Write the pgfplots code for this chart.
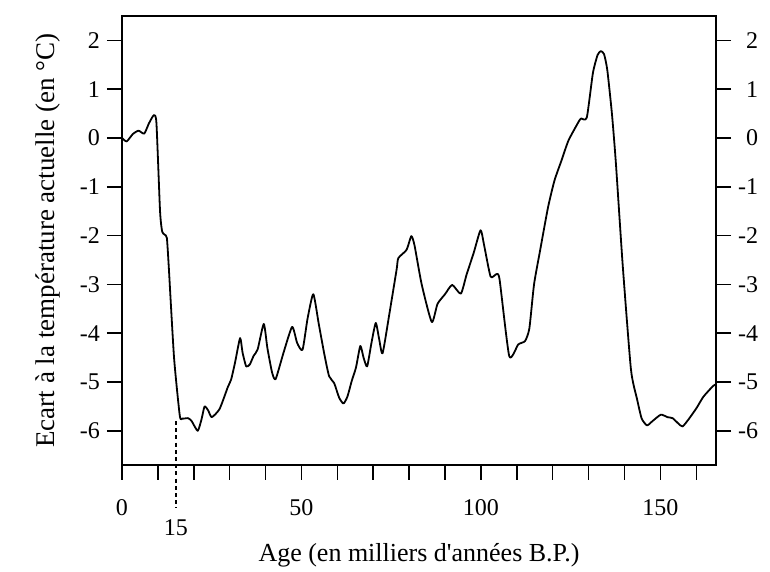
\documentclass[border=0pt]{standalone}
\usepackage{fontspec}
\setmainfont{Liberation Serif}[Ligatures=TeXOff]
\usepackage{pgfplots}
\pgfplotsset{compat=1.18}
\pgfplotstableread{
x y
0 0
1.3 -0.07
3 0.08
4.6 0.15
6.2 0.09
7.5 0.3
8.9 0.47
9.6 0.3
10.6 -1.5
11.2 -1.92
11.9 -1.98
12.5 -2.05
13.0 -2.6
14.5 -4.5
16.1 -5.69
16.8 -5.75
18.4 -5.74
19.4 -5.8
21.1 -6.0
22.2 -5.75
23.0 -5.5
24.0 -5.58
25.0 -5.72
27.2 -5.55
29.5 -5.1
30.4 -4.95
31.5 -4.6
32.9 -4.1
33.6 -4.4
34.6 -4.68
35.6 -4.64
36.7 -4.46
37.8 -4.33
39.5 -3.81
40.5 -4.3
41.8 -4.8
42.8 -4.94
45 -4.4
47.4 -3.87
48.8 -4.2
50.3 -4.34
51.7 -3.7
53.3 -3.2
54.8 -3.8
56.4 -4.44
57.7 -4.88
59.1 -5.02
60.5 -5.32
61.7 -5.44
62.8 -5.3
64.0 -4.98
65.2 -4.7
66.4 -4.26
67.3 -4.5
68.3 -4.68
69.5 -4.2
70.7 -3.79
71.6 -4.1
72.6 -4.41
74.5 -3.6
76.5 -2.70
77.0 -2.46
79.3 -2.29
80.6 -2.01
81.5 -2.2
83.5 -3.0
86.3 -3.77
87.9 -3.40
90 -3.2
92.0 -3.01
94.4 -3.19
96 -2.8
98 -2.35
99.9 -1.89
100.9 -2.2
102.7 -2.84
104.3 -2.79
105.2 -2.9
107.9 -4.47
110.4 -4.23
112.3 -4.16
113.5 -3.9
114.8 -3.0
116.5 -2.3
118.7 -1.42
120.5 -0.87
122.5 -0.45
124.4 -0.05
127.2 0.33
127.9 0.40
129.5 0.42
131.2 1.33
132.5 1.7
133.4 1.78
134.3 1.72
135.2 1.40
136.5 0.5
137.6 -0.51
139.5 -2.6
141.8 -4.74
143.5 -5.35
144.8 -5.75
146.3 -5.89
147.5 -5.82
150.1 -5.67
152 -5.72
153.4 -5.74
155 -5.85
156.2 -5.91
158 -5.75
160.1 -5.53
162 -5.3
164.7 -5.08
165.5 -5.05
}\tempdata
\begin{document}
\begin{tikzpicture}
\useasboundingbox (-61pt,-53.5pt) rectangle (324pt,232.5pt);
\pgfplotsset{myax/.style={
  scale only axis, width=297pt, height=224.5pt,
  at={(0,0)}, anchor=south west,
  xmin=0, xmax=165.5, ymin=-6.7, ymax=2.5,
  tick align=outside, major tick length=7.5pt, minor tick length=7.5pt,
  axis line style={line width=0.75pt},
  every tick/.style={line width=0.75pt, black},
  tick label style={font=\fontsize{12}{14}\selectfont},
  clip=false,
}}
\begin{axis}[myax,
  xtick={0,50,100,150}, minor xtick={10,20,30,40,60,70,80,90,110,120,130,140,160},
  xticklabels={0,50,100,150},
  xtick pos=left, ytick pos=left,
  ytick={-6,-5,...,2},
  yticklabels={-6,-5,-4,-3,-2,-1,0,1,2},
  xticklabel style={yshift=-6pt},
  xlabel={Age (en milliers d'années B.P.)},
  ylabel={Ecart à la température actuelle (en °C)},
  xlabel style={font=\fontsize{13}{15}\selectfont, at={(axis description cs:0.5,0)}, anchor=center, yshift=-45pt},
  ylabel style={font=\fontsize{13.5}{15}\selectfont, at={(axis description cs:0,0.5)}, anchor=center, yshift=37pt},
]
\addplot[black, line width=0.9pt, line join=round, smooth, tension=0.35] table {\tempdata};
\draw[black, line width=0.75pt, dash pattern=on 2pt off 1.6pt] (axis cs:15,-5.8) -- (axis cs:15,-7.58);
\node[font=\fontsize{12}{14}\selectfont, anchor=center] at (axis cs:15,-6.7) [yshift=-31.5pt] {15};
\end{axis}
\begin{axis}[myax,
  axis x line=none, axis y line*=right,
  ytick={-6,-5,...,2},
  yticklabels={-6,-5,-4,-3,-2,-1,\phantom{-}0,\phantom{-}1,\phantom{-}2},
  yticklabel style={anchor=west},
]
\end{axis}
\end{tikzpicture}
\end{document}
